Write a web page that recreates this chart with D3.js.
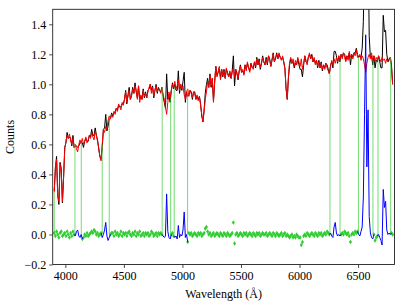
<!DOCTYPE html>
<html>
<head>
<meta charset="utf-8">
<script src="https://cdn.jsdelivr.net/npm/d3@7"></script>
<style>
body { margin: 0; background: #fff; }
text { font-family: 'Liberation Serif', 'DejaVu Serif', serif; }
</style>
</head>
<body>
<svg width="407" height="305"></svg>
<script>
// wavelength grid: 3905 .. 6795 A, every 10 A
const wave = d3.range(3905, 6796, 10);

// best fit (red), 10 values per 100 A
const model = [
  0.28,0.45,0.50,0.26,0.22,0.47,0.42,0.22,0.38,0.57,
  0.62,0.66,0.64,0.67,0.63,0.60,0.64,0.58,0.60,0.57,
  0.55,0.60,0.63,0.61,0.64,0.60,0.62,0.65,0.61,0.63,
  0.66,0.64,0.68,0.65,0.63,0.69,0.66,0.62,0.58,0.52,
  0.49,0.60,0.70,0.68,0.72,0.70,0.76,0.79,0.77,0.80,
  0.78,0.82,0.80,0.84,0.82,0.87,0.85,0.83,0.88,0.86,
  0.90,0.95,0.88,0.92,0.96,0.90,0.93,0.97,0.94,0.99,
  0.96,0.90,0.99,0.88,0.93,0.90,0.96,0.92,0.94,0.91,
  0.95,0.98,1.00,0.94,0.98,0.92,0.96,0.99,0.95,0.97,
  0.96,0.94,0.98,0.93,0.90,0.85,0.80,0.88,0.95,0.91,
  0.96,1.00,0.98,1.02,0.97,0.99,1.03,0.96,1.00,0.97,
  0.99,0.93,0.90,0.95,0.97,0.92,0.96,0.94,0.91,0.95,
  0.94,0.90,0.93,0.89,0.92,0.86,0.80,0.75,0.82,0.90,
  0.95,1.02,0.98,1.06,0.99,1.04,0.88,1.02,1.12,1.05,
  1.08,1.12,1.03,1.10,1.06,1.09,1.04,1.11,1.07,1.05,
  1.09,1.04,1.08,1.11,1.05,1.10,1.07,1.04,1.09,1.12,
  1.08,1.10,1.06,1.13,1.09,1.15,1.11,1.08,1.14,1.12,
  1.10,1.15,1.12,1.17,1.13,1.16,1.11,1.14,1.18,1.15,
  1.13,1.17,1.14,1.19,1.16,1.12,1.17,1.20,1.15,1.18,
  1.20,1.17,1.21,1.18,1.16,1.19,1.15,1.10,0.98,0.90,
  1.05,1.15,1.18,1.14,1.17,1.12,1.16,1.13,1.18,1.15,
  1.12,1.17,1.10,1.14,1.19,1.16,1.13,1.18,1.21,1.17,
  1.19,1.15,1.18,1.13,1.16,1.12,1.15,1.11,1.14,1.10,
  1.13,1.10,1.14,1.11,1.09,1.07,1.12,1.16,1.13,1.17,
  1.14,1.18,1.15,1.19,1.16,1.20,1.17,1.21,1.18,1.15,
  1.19,1.16,1.22,1.18,1.20,1.17,1.21,1.19,1.23,1.18,
  1.18,1.20,1.16,1.19,1.17,1.13,1.08,1.14,1.18,1.20,
  1.17,1.21,1.16,1.19,1.15,1.18,1.16,1.19,1.17,1.15,
  1.18,1.16,1.17,1.14,1.17,1.15,1.16,1.18,1.12,1.00
];

// residuals (data - fit), same grid
const resid = [
  0.01,-0.01,0.02,0.00,-0.02,0.01,0.02,-0.01,0.00,0.01,
  -0.01,0.02,0.00,-0.02,0.01,-0.01,0.02,0.00,-0.01,0.02,
  0.03,-0.01,-0.02,0.00,-0.03,-0.02,0.00,-0.01,0.01,-0.01,
  0.00,0.01,0.02,0.01,0.03,0.02,0.00,0.01,-0.01,0.00,
  0.01,-0.02,0.00,0.03,0.08,-0.01,-0.04,-0.02,0.00,0.01,
  0.01,-0.01,0.02,0.00,0.01,-0.01,0.00,0.02,-0.01,0.01,
  0.00,0.01,-0.01,0.01,0.02,0.00,-0.01,0.01,0.00,0.02,
  -0.01,0.01,0.00,0.02,-0.01,0.00,0.01,-0.01,0.01,0.00,
  0.01,-0.01,0.00,0.02,0.01,-0.01,0.00,0.01,-0.01,0.01,
  0.00,0.01,0.00,-0.01,-0.02,-0.01,0.27,0.02,-0.02,-0.03,
  0.00,0.01,-0.01,-0.02,-0.01,-0.03,0.06,-0.02,0.00,-0.01,
  0.03,0.15,-0.02,0.00,-0.05,0.01,0.00,0.01,-0.01,0.00,
  0.01,0.00,-0.01,0.01,0.00,0.01,-0.01,0.00,0.01,0.04,
  0.05,0.02,0.00,0.01,-0.01,0.00,0.01,-0.01,0.00,0.01,
  0.00,-0.01,0.01,0.00,-0.01,0.01,0.00,-0.01,0.01,0.00,
  -0.01,0.00,0.01,0.08,-0.06,0.00,0.01,-0.01,0.00,0.01,
  0.00,-0.01,0.01,0.00,0.01,-0.01,0.00,0.01,0.00,-0.01,
  0.01,0.00,-0.01,0.01,0.00,0.01,-0.01,0.00,0.01,0.00,
  0.00,0.01,-0.01,0.00,0.01,0.00,-0.01,0.01,0.00,-0.01,
  0.01,0.00,-0.01,0.00,0.01,-0.01,0.00,0.01,-0.01,0.00,
  -0.01,-0.02,-0.01,0.00,-0.02,-0.01,-0.02,0.00,-0.01,-0.02,
  -0.02,-0.07,-0.05,-0.01,0.00,-0.01,0.01,0.00,-0.01,0.00,
  0.01,0.00,-0.01,0.01,0.00,-0.01,0.01,0.00,0.01,-0.01,
  0.00,0.01,0.00,0.02,0.01,0.00,0.01,-0.01,-0.02,0.05,
  0.08,0.01,-0.01,0.00,-0.01,0.00,0.01,0.00,0.02,0.01,
  0.00,0.01,-0.01,-0.05,0.00,0.01,0.00,0.02,0.01,0.02,
  0.00,-0.01,0.02,0.05,0.25,0.80,1.33,0.45,0.83,0.12,
  0.01,-0.02,-0.03,0.00,-0.04,-0.02,-0.01,0.00,-0.02,-0.04,
  -0.07,0.30,0.18,0.22,0.03,0.00,0.01,0.00,0.01,0.00
];

// masked regions (emission lines), Angstrom
const maskStart = [4082, 4315, 4827, 4930, 6260, 6503, 6670];
const maskEnd   = [4136, 4375, 4899, 5044, 6346, 6627, 6778];

const xTicks = [4000, 4500, 5000, 5500, 6000, 6500];
const yTicks = [-0.2, 0.0, 0.2, 0.4, 0.6, 0.8, 1.0, 1.2, 1.4];

const W = 407, H = 305;
const margin = {left: 52.7, right: 12.5, top: 9.3, bottom: 40.5};

const svg = d3.select('svg');

const x = d3.scaleLinear().domain([3892, 6811]).range([margin.left, W - margin.right]);
const y = d3.scaleLinear().domain([-0.2, 1.5]).range([H - margin.bottom, margin.top]);

const pts = wave.map((w, i) => ({
  w: w,
  fit: model[i],
  res: resid[i],
  obs: model[i] + resid[i],
  masked: maskStart.some((s, k) => w >= s && w <= maskEnd[k])
}));

svg.append('clipPath').attr('id', 'plot')
  .append('rect')
    .attr('x', margin.left).attr('y', margin.top)
    .attr('width', W - margin.left - margin.right)
    .attr('height', H - margin.top - margin.bottom);

const g = svg.append('g').attr('clip-path', 'url(#plot)');

// data (black) and best fit (red)
g.append('path').datum(pts)
  .attr('fill', 'none').attr('stroke', 'black').attr('stroke-width', 1)
  .attr('d', d3.line().x(d => x(d.w)).y(d => y(d.obs)));

g.append('path').datum(pts)
  .attr('fill', 'none').attr('stroke', 'red').attr('stroke-width', 1)
  .attr('d', d3.line().x(d => x(d.w)).y(d => y(d.fit)));

// edges of the good pixels: green lines from 0 up to the fit
const edges = [wave[0]].concat(d3.merge(maskStart.map((s, k) => [s, maskEnd[k]])));
const nearest = l => pts[d3.minIndex(pts, d => Math.abs(d.w - l))];

g.selectAll('line.edge').data(edges)
  .enter().append('line')
    .attr('class', 'edge')
    .attr('x1', d => x(d)).attr('x2', d => x(d))
    .attr('y1', y(0)).attr('y2', d => y(nearest(d).fit))
    .attr('stroke', 'limegreen').attr('stroke-width', 0.9).attr('opacity', 0.75);

// residuals of good pixels: green diamonds
g.selectAll('path.res').data(pts.filter(d => !d.masked))
  .enter().append('path')
    .attr('class', 'res')
    .attr('d', 'M0,-2.2L1.5,0L0,2.2L-1.5,0Z')
    .attr('transform', d => `translate(${x(d.w)},${y(d.res)})`)
    .attr('fill', 'limegreen');

// residuals inside masks: blue
maskStart.forEach((s, k) => {
  const idx = pts.map((d, i) => i).filter(i => pts[i].w >= s && pts[i].w <= maskEnd[k]);
  const a = Math.max(0, idx[0] - 1), b = Math.min(pts.length - 1, idx[idx.length - 1] + 1);
  g.append('path').datum(pts.slice(a, b + 1))
    .attr('fill', 'none').attr('stroke', 'blue').attr('stroke-width', 1)
    .attr('d', d3.line().x(d => x(d.w)).y(d => y(d.res)));
});

// axes
const xAxis = svg.append('g')
  .attr('transform', `translate(0,${H - margin.bottom})`)
  .call(d3.axisBottom(x).tickValues(xTicks).tickSize(3.5).tickPadding(3).tickFormat(d3.format('d')));

const yAxis = svg.append('g')
  .attr('transform', `translate(${margin.left},0)`)
  .call(d3.axisLeft(y).tickValues(yTicks).tickSize(3.5).tickPadding(3).tickFormat(d3.format('.1f')));

[xAxis, yAxis].forEach(a => {
  a.select('.domain').remove();
  a.selectAll('line').attr('stroke', '#222').attr('stroke-width', 0.8);
  a.selectAll('text').attr('fill', '#000').attr('font-size', '12px')
    .attr('font-family', "'Liberation Serif', serif");
});

svg.append('rect')
  .attr('x', margin.left).attr('y', margin.top)
  .attr('width', W - margin.left - margin.right)
  .attr('height', H - margin.top - margin.bottom)
  .attr('fill', 'none').attr('stroke', '#222').attr('stroke-width', 0.9);

svg.append('text')
  .attr('x', (margin.left + W - margin.right) / 2).attr('y', 298)
  .attr('text-anchor', 'middle').attr('font-size', '12px')
  .text('Wavelength (Å)');

svg.append('text')
  .attr('transform', `translate(14,${(margin.top + H - margin.bottom) / 2}) rotate(-90)`)
  .attr('text-anchor', 'middle').attr('font-size', '12px')
  .text('Counts');
</script>
</body>
</html>
